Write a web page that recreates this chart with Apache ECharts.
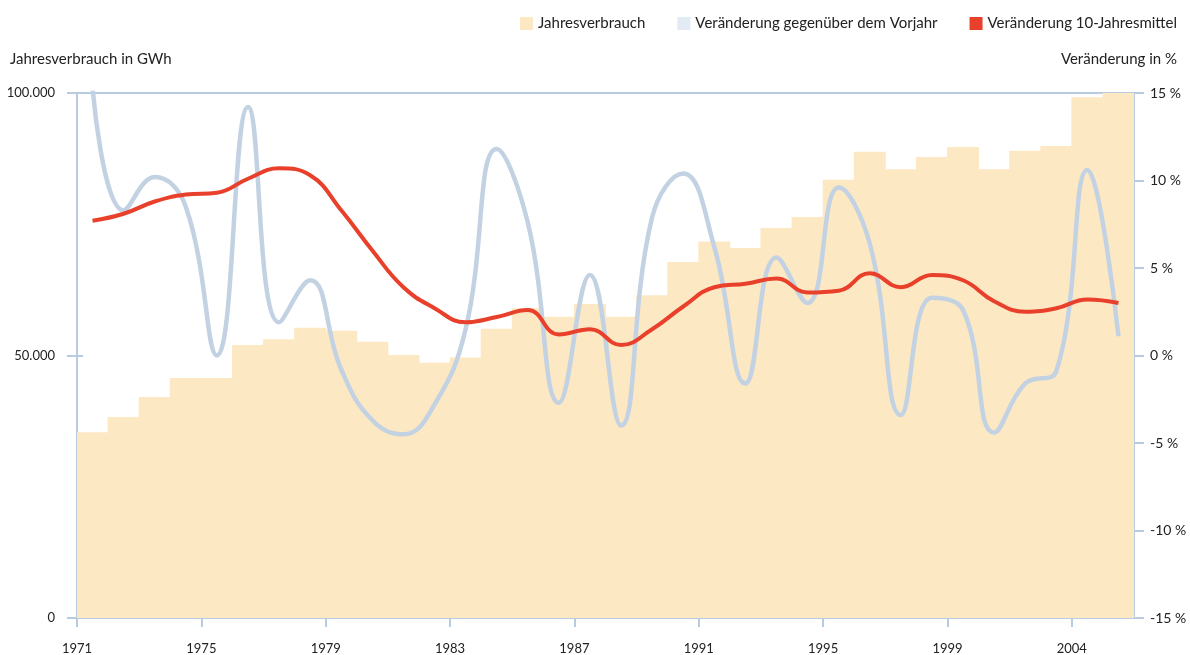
<!DOCTYPE html>
<html>
<head>
<meta charset="utf-8">
<script src="https://cdn.jsdelivr.net/npm/echarts@6/dist/echarts.min.js"></script>
<style>
html,body{margin:0;padding:0;background:#fff;}
#c{width:1190px;height:655px;}
</style>
</head>
<body>
<div id="c"></div>
<script>
// Years 1971 .. 2004 (34 annual values)
const years = ['1971','1972','1973','1974','1975','1976','1977','1978','1979','1980',
  '1981','1982','1983','1984','1985','1986','1987','1988','1989','1990',
  '1991','1992','1993','1994','1995','1996','1997','1998','1999','2000',
  '2001','2002','2003','2004'];
const tickLabels = ['1971','1975','1979','1983','1987','1991','1995','1999','2004'];
// Jahresverbrauch in GWh
const verbrauch = [35400, 38300, 42100, 45700, 45700, 52000, 53100, 55300, 54700, 52600,
  50100, 48600, 49600, 55100, 59000, 57400, 59800, 57400, 61500, 67800,
  71700, 70500, 74300, 76400, 83500, 88800, 85500, 87800, 89700, 85500,
  89000, 89900, 99200, 100000];
// Veränderung gegenüber dem Vorjahr in %
const vorjahr = [15.3, 8.3, 10.2, 8.5, 0.0, 14.2, 1.9, 4.3, -0.8, -3.7,
  -4.5, -2.8, 1.5, 11.8, 7.6, -2.7, 4.6, -4.0, 7.9, 10.4,
  6.2, -1.6, 5.6, 3.0, 9.6, 6.4, -3.4, 3.3, 2.6, -4.4,
  -1.6, -0.9, 10.6, 1.1];
// Veränderung 10-Jahresmittel in %
const mittel10 = [7.7, 8.1, 8.8, 9.2, 9.3, 10.1, 10.7, 10.3, 8.3, 6.0,
  3.9, 2.7, 1.9, 2.2, 2.6, 1.2, 1.5, 0.6, 1.5, 2.8,
  3.9, 4.1, 4.4, 3.6, 3.7, 4.7, 3.9, 4.6, 4.3, 3.1,
  2.5, 2.7, 3.2, 3.0];

const axisCol = '#b9cbe0';
const txtCol = '#222';
const font = 'Lato, "Open Sans", sans-serif';

const chart = echarts.init(document.getElementById('c'), null, {renderer: 'canvas'});
chart.setOption({
  animation: false,
  textStyle: {fontFamily: font},
  title: [
    {text: 'Jahresverbrauch in GWh', left: 5, top: 47,
     textStyle: {fontSize: 15, fontWeight: 'normal', color: txtCol, fontFamily: font}},
    {text: 'Veränderung in %', right: 8, top: 47,
     textStyle: {fontSize: 15, fontWeight: 'normal', color: txtCol, fontFamily: font}}
  ],
  legend: {
    right: 8, top: 11, itemWidth: 13, itemHeight: 13, itemGap: 32,
    icon: 'rect',
    textStyle: {fontSize: 15, color: txtCol, fontFamily: font},
    data: [
      {name: 'Jahresverbrauch', itemStyle: {color: '#fde8c4'}},
      {name: 'Veränderung gegenüber dem Vorjahr', itemStyle: {color: '#e2eaf3'}},
      {name: 'Veränderung 10-Jahresmittel', itemStyle: {color: '#e8402a'}}
    ]
  },
  grid: {left: 77, right: 56, top: 93, bottom: 37, show: true,
         borderColor: axisCol, borderWidth: 2, backgroundColor: 'transparent'},
  xAxis: [
    {type: 'category', data: years, boundaryGap: true, show: false,
     axisLine: {onZero: false}},
    {type: 'value', min: 0, max: 34, interval: 4, position: 'bottom',
     axisLine: {show: true, onZero: false, lineStyle: {color: axisCol, width: 2}},
     axisTick: {show: true, length: 9, lineStyle: {color: axisCol, width: 2}},
     axisLabel: {margin: 24, fontSize: 13, color: txtCol, fontFamily: font, showMaxLabel: false,
       formatter: v => tickLabels[v / 4] || ''},
     splitLine: {show: false}},
    {type: 'value', min: 0, max: 34, interval: 4, position: 'bottom',
     axisLine: {show: false, onZero: false},
     axisTick: {show: true, inside: true, length: 8, lineStyle: {color: axisCol, width: 2}},
     axisLabel: {show: false}, splitLine: {show: false}}
  ],
  yAxis: [
    {type: 'value', min: 0, max: 100000, interval: 50000, position: 'left',
     axisLine: {show: true, onZero: false, lineStyle: {color: axisCol, width: 2}},
     axisTick: {show: true, length: 10, lineStyle: {color: axisCol, width: 2}},
     axisLabel: {margin: 22, fontSize: 13, color: txtCol, fontFamily: font,
       formatter: v => v === 0 ? '0' : (v / 1000).toFixed(0) + '.000'},
     splitLine: {show: false}},
    {type: 'value', min: -15, max: 15, interval: 5, position: 'right',
     axisLine: {show: true, onZero: false, lineStyle: {color: axisCol, width: 2}},
     axisTick: {show: true, length: 10, lineStyle: {color: axisCol, width: 2}},
     axisLabel: {margin: 16, fontSize: 14, color: txtCol, fontFamily: font,
       formatter: v => v + ' %'},
     splitLine: {show: false}},
    {type: 'value', min: 0, max: 100000, interval: 50000, position: 'left',
     axisLine: {show: false, onZero: false},
     axisTick: {show: true, inside: true, length: 6, lineStyle: {color: axisCol, width: 2}},
     axisLabel: {show: false}, splitLine: {show: false}}
  ],
  series: [
    {name: 'Jahresverbrauch', type: 'bar', xAxisIndex: 0, yAxisIndex: 0,
     data: verbrauch, barWidth: 32, barGap: '-100%',
     itemStyle: {color: '#fde8c4'}, z: 1},
    {name: 'Veränderung gegenüber dem Vorjahr', type: 'line', xAxisIndex: 0, yAxisIndex: 1,
     data: vorjahr, smooth: 0.45, showSymbol: false, symbol: 'none',
     lineStyle: {color: '#c3d2e3', width: 4.5}, itemStyle: {color: '#c3d2e3'}, z: 3},
    {name: 'Veränderung 10-Jahresmittel', type: 'line', xAxisIndex: 0, yAxisIndex: 1,
     data: mittel10, smooth: 0.45, showSymbol: false, symbol: 'none',
     lineStyle: {color: '#e8402a', width: 4}, itemStyle: {color: '#e8402a'}, z: 4}
  ]
});
</script>
</body>
</html>
